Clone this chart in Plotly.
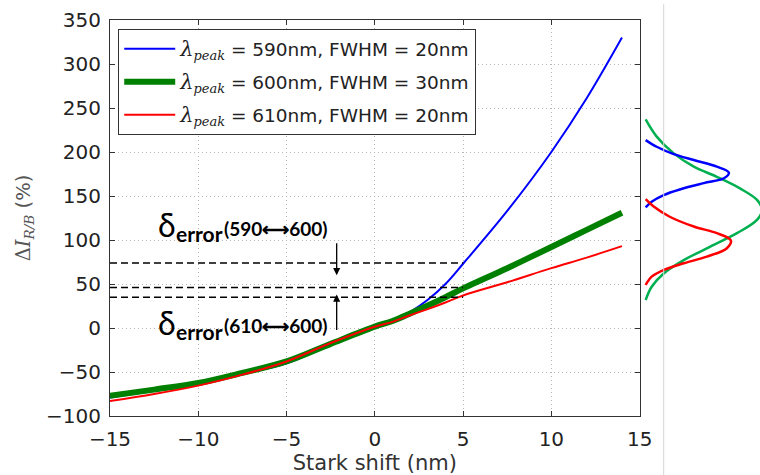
import plotly.graph_objects as go

# ---- main curves ----
stark_x = [-15, -12.5, -10, -7.5, -5, -2.5, 0, 1, 2, 3, 4, 5, 7.5, 10, 12, 14]
d590 = [-79, -71, -63, -52, -40, -19, 1.5, 7.5, 18, 32, 50, 73, 133, 200, 261, 330]
d600 = [-77, -70, -62.5, -51, -38, -18, 1.5, 8, 16.5, 25.5, 35, 45, 68, 92, 111.5, 131]
d610 = [-83, -75, -65.5, -53, -38, -17, 1.5, 7, 14.5, 21.5, 29, 37, 52, 68, 80, 93]

# error reference levels (at Stark shift = 5 nm)
err_levels = [74, 46, 35]
err_x = [-15, 5]

# ---- inset spectra (wavelength nm, intensity a.u.) ----
blue_wl = [580.6, 582.5, 584.6, 586.3, 588.2, 589.9, 591.5, 592.9, 594.7, 596.3, 598.2, 599.8]
blue_I = [4, 15, 32, 52, 75, 87, 82, 62, 38, 22, 10, 4]
red_wl = [597.5, 599.6, 602.5, 605.3, 607.2, 609.3, 611.5, 613.9, 615.8, 617.7, 619.6, 622.0]
red_I = [4, 12, 28, 52, 75, 89, 85, 65, 42, 22, 10, 4]
green_wl = [574.7, 579.6, 584.4, 588.2, 591.1, 594.4, 597.7, 600.6, 603.4, 607.2, 611.1, 614.9, 618.7, 622.5, 626.3]
green_I = [4, 15, 32, 52, 75, 98, 115, 120, 115, 95, 68, 42, 22, 10, 4]

xticks = [-15, -10, -5, 0, 5, 10, 15]
yticks = [-100, -50, 0, 50, 100, 150, 200, 250, 300, 350]

math = "font-family:'DejaVu Serif'"
def leg(peak, fwhm):
    return (f"<span style=\"{math};font-size:21px\"><i>λ</i></span><sub><span style=\"{math}\"><i>peak</i></span></sub>"
            f" = {peak}nm, FWHM = {fwhm}nm")

fig = go.Figure()
fig.add_trace(go.Scatter(x=stark_x, y=d590, mode="lines", line=dict(color="#0000ff", width=2, shape="spline"),
                         name=leg(590, 20), legendgroup="a"))
fig.add_trace(go.Scatter(x=stark_x, y=d600, mode="lines", line=dict(color="#008000", width=6, shape="spline"),
                         name=leg(600, 30), legendgroup="b"))
fig.add_trace(go.Scatter(x=stark_x, y=d610, mode="lines", line=dict(color="#ff0000", width=2, shape="spline"),
                         name=leg(610, 20), legendgroup="c"))
for lv in err_levels:
    fig.add_trace(go.Scatter(x=err_x, y=[lv, lv], mode="lines", showlegend=False,
                             line=dict(color="black", width=1.5, dash="7px,4px")))

# inset spectra
for wl, I, c in [(green_wl, green_I, "#00b050"), (blue_wl, blue_I, "#0000ff"), (red_wl, red_I, "#ff0000")]:
    fig.add_trace(go.Scatter(x=I, y=wl, mode="lines", xaxis="x2", yaxis="y2", showlegend=False,
                             line=dict(color=c, width=2.5, shape="spline")))

axcommon = dict(showline=True, linecolor="#333333", linewidth=1.2, mirror="allticks",
                ticks="inside", ticklen=5, tickcolor="#333333",
                showgrid=True, gridcolor="#b5b5b5", griddash="1px,3px", gridwidth=1,
                zeroline=False, tickfont=dict(family="DejaVu Sans", size=20, color="#222222"))

fig.update_layout(
    width=775, height=475, autosize=False,
    margin=dict(l=110, r=0, t=20, b=59),
    paper_bgcolor="white", plot_bgcolor="white",
    font=dict(family="DejaVu Sans", color="#222222"),
    xaxis=dict(domain=[0, 528/650], range=[-15, 15], tickvals=xticks, ticklabelstandoff=5,
               title=dict(text="Stark shift (nm)", font=dict(size=21, color="#333333"), standoff=6),
               **axcommon),
    yaxis=dict(domain=[0, 1], range=[-100, 350], tickvals=yticks, ticklabelstandoff=4,
               title=dict(text=f"<span style=\"{math}\">Δ<i>I</i></span><sub><span style=\"{math}\"><i>R/B</i></span></sub> (%)",
                          font=dict(size=19.5, color="#555555"), standoff=10),
               **axcommon),
    xaxis2=dict(domain=[530/650, 1], range=[0, 120], visible=False, anchor="y2"),
    yaxis2=dict(domain=[0, 1], range=[659.43, 546.29], visible=False, anchor="x2"),
    legend=dict(x=8/650, y=(416-29)/396, xanchor="left", yanchor="top",
                bordercolor="#333333", borderwidth=1.2, bgcolor="white",
                font=dict(family="DejaVu Sans", size=18.5, color="#222222"),
                tracegroupgap=6, itemwidth=51),
    showlegend=True,
)

# inset separator line
fig.add_shape(type="line", xref="x2", yref="paper", x0=22, x1=22, y0=-0.15, y1=1.04,
              line=dict(color="#d4d4d4", width=1))

# arrows
fig.add_annotation(x=-2.16, y=60, ax=-2.16, ay=98, xref="x", yref="y", axref="x", ayref="y",
                   showarrow=True, arrowhead=2, arrowsize=1.1, arrowwidth=1.3, arrowcolor="black", text="")
fig.add_annotation(x=-2.16, y=38, ax=-2.16, ay=-4, xref="x", yref="y", axref="x", ayref="y",
                   showarrow=True, arrowhead=2, arrowsize=1.1, arrowwidth=1.3, arrowcolor="black", text="")

# delta labels
bold = dict(family="Lato", color="black")
for (dy, ey, py, lbl) in [(118, 107, 113, "(590⟷600)"), (5.7, -4.5, 3.4, "(610⟷600)")]:
    fig.add_annotation(x=-12.4, y=dy, xref="x", yref="y", text="δ", showarrow=False,
                       xanchor="left", yanchor="middle", font=dict(size=32, **bold))
    fig.add_annotation(x=-11.35, y=ey, xref="x", yref="y", text="<b>error</b>", showarrow=False,
                       xanchor="left", yanchor="middle", font=dict(size=21, **bold))
    fig.add_annotation(x=-8.64, y=py, xref="x", yref="y", text=f"<b>{lbl}</b>", showarrow=False,
                       xanchor="left", yanchor="middle", font=dict(size=19, **bold))

post = ("document.documentElement.style.overflow='hidden';"
        "document.body.style.overflow='hidden';"
        "document.body.style.margin='0';")

fig.write_html("out.html",
               config=dict(displayModeBar=False, responsive=False),
               post_script=post)
